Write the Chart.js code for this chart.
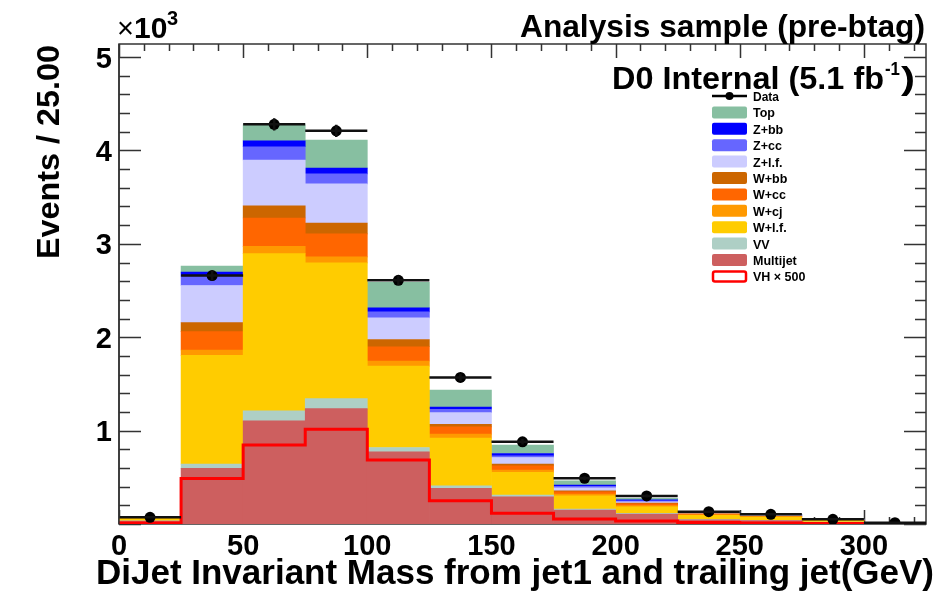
<!DOCTYPE html>
<html>
<head>
<meta charset="utf-8">
<title>DiJet invariant mass</title>
<script src="https://cdn.jsdelivr.net/npm/chart.js@4.4.1/dist/chart.umd.min.js"></script>
<style>
  html, body { margin: 0; padding: 0; background: #fff; }
  canvas { display: block; }
</style>
</head>
<body>
<canvas id="massChart" width="944" height="591"></canvas>
<script>
// bin edges in GeV, 25 GeV per bin
const binEdges = [0, 25, 50, 75, 100, 125, 150, 175, 200, 225, 250, 275, 300, 325];

// events per bin, in units of 10^3
const multijet = [0.030, 0.595, 1.104, 1.236, 0.772, 0.381, 0.292, 0.150, 0.107, 0.045, 0.036, 0.018, 0.006];
const vv       = [0.004, 0.046, 0.107, 0.107, 0.047, 0.028, 0.018, 0.010, 0.007, 0.004, 0.003, 0.002, 0.001];
const wlf      = [0.025, 1.165, 1.684, 1.453, 0.872, 0.510, 0.242, 0.142, 0.071, 0.045, 0.035, 0.016, 0.005];
const wcj      = [0.002, 0.057, 0.078, 0.064, 0.054, 0.043, 0.025, 0.018, 0.011, 0.004, 0.003, 0.002, 0.001];
const wcc      = [0.003, 0.197, 0.304, 0.246, 0.153, 0.078, 0.046, 0.025, 0.021, 0.008, 0.006, 0.003, 0.001];
const wbb      = [0.001, 0.096, 0.131, 0.117, 0.078, 0.028, 0.018, 0.011, 0.007, 0.004, 0.003, 0.002, 0.001];
const zlf      = [0.002, 0.398, 0.490, 0.420, 0.232, 0.125, 0.071, 0.032, 0.014, 0.008, 0.006, 0.003, 0.001];
const zcc      = [0.001, 0.100, 0.142, 0.107, 0.064, 0.036, 0.018, 0.015, 0.011, 0.004, 0.003, 0.002, 0.001];
const zbb      = [0.001, 0.043, 0.064, 0.060, 0.043, 0.024, 0.025, 0.014, 0.011, 0.004, 0.003, 0.001, 0.001];
const topq     = [0.001, 0.064, 0.170, 0.300, 0.274, 0.182, 0.089, 0.046, 0.014, 0.008, 0.006, 0.003, 0.001];
const dataObs  = [0.072, 2.660, 4.280, 4.210, 2.610, 1.570, 0.880, 0.490, 0.300, 0.132, 0.104, 0.050, 0.014];
const vhx500   = [0.010, 0.488, 0.847, 1.015, 0.684, 0.249, 0.114, 0.053, 0.032, 0.015, 0.010, 0.006, 0.003];

// stack, bottom first
const stackNames  = ['Multijet', 'VV', 'W+l.f.', 'W+cj', 'W+cc', 'W+bb', 'Z+l.f.', 'Z+cc', 'Z+bb', 'Top'];
const stackValues = [multijet, vv, wlf, wcj, wcc, wbb, zlf, zcc, zbb, topq];
const stackColors = ['#cd5f5f', '#aecfc5', '#ffcc00', '#ff9900', '#ff6600', '#cc6600', '#ccccff', '#6666ff', '#0000ff', '#87bfa1'];

const yTicks = [1, 2, 3, 4, 5];
const xTicks = [0, 50, 100, 150, 200, 250, 300];

const FONT = '"Liberation Sans", Arial, Helvetica, sans-serif';
const binCenters = binEdges.slice(0, -1).map((e, i) => (e + binEdges[i + 1]) / 2);

function drawText(c, str, x, y, size, width, align) {
  c.save();
  c.font = `bold ${size}px ${FONT}`;
  const w = c.measureText(str).width;
  const k = width ? width / w : 1;
  c.translate(x, y);
  c.scale(k, 1);
  c.textAlign = align || 'left';
  c.textBaseline = 'alphabetic';
  c.fillStyle = '#000';
  c.fillText(str, 0, 0);
  c.restore();
}

const barSets = stackNames.map((name, i) => ({
  type: 'bar',
  label: name,
  data: binCenters.map((x, j) => ({ x: x, y: stackValues[i][j] })),
  backgroundColor: stackColors[i],
  borderWidth: 0,
  barPercentage: 1,
  categoryPercentage: 1,
  stack: 'mc'
}));

const vhSet = {
  type: 'line',
  label: 'VH \u00d7 500',
  data: binEdges.map((x, j) => ({ x: x, y: vhx500[Math.min(j, vhx500.length - 1)] })),
  stepped: 'before',
  borderColor: '#ff0000',
  borderWidth: 3,
  pointRadius: 0,
  fill: false,
  stack: 'vh'
};

const dataSet = {
  type: 'line',
  label: 'Data',
  data: binCenters.map((x, j) => ({ x: x, y: dataObs[j] })),
  showLine: false,
  pointRadius: 5.5,
  pointBackgroundColor: '#000',
  pointBorderColor: '#000',
  pointBorderWidth: 0,
  stack: 'data'
};

// frame, inward ticks and the data error bars
const histFrame = {
  id: 'histFrame',
  beforeDatasetsDraw(chart) {
    const c = chart.ctx, a = chart.chartArea;
    const xs = chart.scales.x, ys = chart.scales.y;
    c.save();
    c.strokeStyle = '#333';
    c.lineWidth = 1.5;
    c.beginPath();
    for (let v = 0; v <= 5.1; v += 0.2) {
      const y = Math.round(ys.getPixelForValue(v)) + 0.5;
      const major = Math.abs(v - Math.round(v)) < 1e-6;
      const len = major ? 22 : 11;
      c.moveTo(a.left, y); c.lineTo(a.left + len, y);
      c.moveTo(a.right, y); c.lineTo(a.right - len, y);
    }
    for (let v = 0; v <= 325; v += 10) {
      const x = Math.round(xs.getPixelForValue(v)) + 0.5;
      const len = v % 50 === 0 ? 14 : 7;
      c.moveTo(x, a.top); c.lineTo(x, a.top + len);
      c.moveTo(x, a.bottom); c.lineTo(x, a.bottom - len);
    }
    c.stroke();
    c.strokeRect(a.left, a.top, a.right - a.left, a.bottom - a.top);
    c.restore();
  },
  afterDatasetsDraw(chart) {
    const c = chart.ctx;
    const xs = chart.scales.x, ys = chart.scales.y;
    c.save();
    c.strokeStyle = '#111';
    c.lineWidth = 2.5;
    c.beginPath();
    dataObs.forEach((v, i) => {
      const y = ys.getPixelForValue(v);
      c.moveTo(xs.getPixelForValue(binEdges[i]), y);
      c.lineTo(xs.getPixelForValue(binEdges[i + 1]), y);
      const err = Math.sqrt(v * 1000) / 1000;
      const xc = xs.getPixelForValue(binCenters[i]);
      c.moveTo(xc, ys.getPixelForValue(v - err));
      c.lineTo(xc, ys.getPixelForValue(v + err));
    });
    c.stroke();
    // left frame edge stays on top of the first bins
    c.strokeStyle = '#333';
    c.lineWidth = 1.5;
    c.beginPath();
    c.moveTo(chart.chartArea.left, chart.chartArea.top);
    c.lineTo(chart.chartArea.left, chart.chartArea.bottom);
    c.stroke();
    c.restore();
  },
  afterDraw(chart) {
    const c = chart.ctx;
    const xs = chart.scales.x, ys = chart.scales.y;

    yTicks.forEach(v => drawText(c, String(v), 112, ys.getPixelForValue(v) + 10.5, 29, null, 'right'));
    xTicks.forEach(v => drawText(c, String(v), xs.getPixelForValue(v), 555, 29, null, 'center'));

    drawText(c, 'DiJet Invariant Mass from jet1 and trailing jet(GeV)', 96, 584, 35, 838, 'left');

    c.save();
    c.translate(59, 152);
    c.rotate(-Math.PI / 2);
    drawText(c, 'Events / 25.00', 0, 0, 32, 214, 'center');
    c.restore();

    // x10^3 multiplier
    c.save();
    c.font = `29px ${FONT}`;
    c.fillStyle = '#000';
    c.fillText('\u00d7', 117, 38);
    c.restore();
    drawText(c, '10', 134, 38, 30, null, 'left');
    drawText(c, '3', 167, 25, 20, null, 'left');

    drawText(c, 'Analysis sample (pre-btag)', 925, 37, 31, 405, 'right');

    // D0 Internal (5.1 fb^-1)
    drawText(c, 'D0 Internal (5.1 fb', 612, 89, 32, 272, 'left');
    drawText(c, '-1', 885, 75, 19, 15, 'left');
    drawText(c, ')', 901, 89, 32, 14, 'left');

    // legend
    const lx = 712, lw = 35, tx = 753;
    const rowY = i => 96 + i * 16.4;
    c.save();
    c.strokeStyle = '#000';
    c.lineWidth = 2.5;
    c.beginPath();
    c.moveTo(lx, rowY(0)); c.lineTo(lx + lw, rowY(0));
    c.stroke();
    c.beginPath();
    c.arc(lx + lw / 2, rowY(0), 4, 0, Math.PI * 2);
    c.fillStyle = '#000';
    c.fill();
    c.restore();
    drawText(c, 'Data', tx, rowY(0) + 5, 12, null, 'left');

    const entries = stackNames.map((n, i) => ({ name: n, color: stackColors[i] })).reverse();
    entries.forEach((e, k) => {
      const y = rowY(k + 1);
      c.fillStyle = e.color;
      c.beginPath();
      c.roundRect(lx, y - 6, lw, 12, 2);
      c.fill();
      drawText(c, e.name, tx, y + 5, 12.5, null, 'left');
    });
    const vy = rowY(entries.length + 1);
    c.save();
    c.fillStyle = '#fff';
    c.strokeStyle = '#ff0000';
    c.lineWidth = 2.5;
    c.beginPath();
    c.roundRect(lx + 1, vy - 5, lw - 2, 10, 2);
    c.fill();
    c.stroke();
    c.restore();
    drawText(c, 'VH \u00d7 500', tx, vy + 5, 12.5, null, 'left');
  }
};

new Chart(document.getElementById('massChart'), {
  type: 'bar',
  data: { datasets: [dataSet, vhSet, ...barSets] },
  options: {
    responsive: false,
    animation: false,
    devicePixelRatio: 1,
    layout: { padding: { top: 44, right: 18, left: 0, bottom: 0 } },
    plugins: { legend: { display: false }, tooltip: { enabled: false } },
    scales: {
      x: {
        type: 'linear', min: 0, max: 325, stacked: true, offset: false,
        ticks: { display: false, stepSize: 50 },
        grid: { display: false }, border: { display: false },
        afterFit(s) { s.height = 67; }
      },
      y: {
        type: 'linear', min: 0, max: 5.14, stacked: true,
        ticks: { display: false, stepSize: 1 },
        grid: { display: false }, border: { display: false },
        afterFit(s) { s.width = 119; }
      }
    }
  },
  plugins: [histFrame]
});
</script>
</body>
</html>
